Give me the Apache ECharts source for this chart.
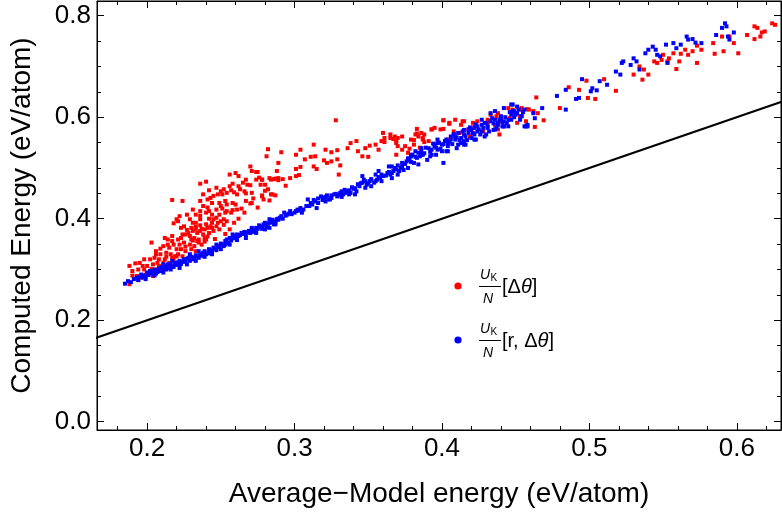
<!DOCTYPE html>
<html>
<head>
<meta charset="utf-8">
<script src="https://cdn.jsdelivr.net/npm/echarts@6/dist/echarts.min.js"></script>
<style>
html,body{margin:0;padding:0;background:#fff;}
#chart{width:782px;height:513px;}
</style>
</head>
<body>
<div id="chart"></div>
<script>
// ---- data ----
const xMajorTicks = [0.2, 0.3, 0.4, 0.5, 0.6];
const xMinorTicks = [0.18, 0.22, 0.24, 0.26, 0.28, 0.32, 0.34, 0.36, 0.38, 0.42, 0.44, 0.46, 0.48, 0.52, 0.54, 0.56, 0.58, 0.62];
const yMajorTicks = [0.0, 0.2, 0.4, 0.6, 0.8];
const yMinorTicks = [0.05, 0.1, 0.15, 0.25, 0.3, 0.35, 0.45, 0.5, 0.55, 0.65, 0.7, 0.75];
const xTitle = 'Average\u2212Model energy (eV/atom)';
const yTitle = 'Computed Energy (eV/atom)';
const identityLine = [[0.1, 0.1], [0.7, 0.7]];

const redPoints = [
[0.256,0.487],[0.260,0.490],[0.271,0.494],[0.275,0.492],[0.288,0.494],[0.236,0.469],[0.240,0.473],[0.256,0.464],[0.258,0.469],[0.262,0.464],
[0.265,0.471],[0.268,0.467],[0.270,0.466],[0.274,0.477],[0.276,0.481],[0.277,0.467],[0.278,0.477],[0.284,0.477],[0.287,0.479],[0.289,0.476],
[0.250,0.454],[0.251,0.448],[0.252,0.458],[0.254,0.451],[0.257,0.456],[0.259,0.452],[0.261,0.448],[0.263,0.458],[0.266,0.454],[0.267,0.450],
[0.271,0.451],[0.278,0.446],[0.284,0.448],[0.287,0.446],[0.217,0.437],[0.224,0.435],[0.236,0.435],[0.241,0.438],[0.243,0.441],[0.245,0.445],
[0.248,0.448],[0.238,0.425],[0.241,0.422],[0.244,0.431],[0.249,0.431],[0.253,0.435],[0.258,0.431],[0.260,0.428],[0.267,0.435],[0.275,0.422],
[0.242,0.415],[0.251,0.420],[0.254,0.415],[0.258,0.417],[0.266,0.412],[0.233,0.408],[0.236,0.406],[0.240,0.412],[0.249,0.408],[0.253,0.412],
[0.257,0.412],[0.220,0.399],[0.221,0.395],[0.218,0.391],[0.229,0.399],[0.231,0.392],[0.236,0.399],[0.242,0.400],[0.245,0.399],[0.250,0.395],
[0.254,0.395],[0.256,0.379],[0.225,0.385],[0.230,0.382],[0.233,0.384],[0.236,0.387],[0.239,0.379],[0.241,0.382],[0.243,0.385],[0.247,0.385],
[0.231,0.376],[0.234,0.372],[0.238,0.369],[0.242,0.372],[0.245,0.376],[0.249,0.379],[0.212,0.362],[0.214,0.359],[0.217,0.366],[0.221,0.359],
[0.223,0.362],[0.226,0.369],[0.229,0.366],[0.232,0.362],[0.235,0.359],[0.239,0.362],[0.203,0.353],[0.218,0.349],[0.222,0.349],[0.225,0.353],
[0.229,0.349],[0.232,0.346],[0.235,0.353],[0.215,0.343],[0.220,0.340],[0.223,0.340],[0.226,0.336],[0.230,0.340],[0.206,0.336],[0.209,0.330],
[0.213,0.333],[0.216,0.330],[0.221,0.330],[0.224,0.326],[0.205,0.323],[0.208,0.320],[0.212,0.320],[0.218,0.320],[0.215,0.313],[0.198,0.320],
[0.195,0.313],[0.192,0.312],[0.200,0.307],[0.204,0.310],[0.208,0.307],[0.213,0.303],[0.188,0.307],[0.190,0.297],[0.198,0.300],[0.202,0.297],
[0.207,0.300],[0.199,0.290],[0.193,0.287],[0.196,0.284],[0.204,0.287],[0.188,0.271],
[0.226,0.345],[0.228,0.372],[0.233,0.392],[0.237,0.380],[0.244,0.392],[0.247,0.402],[0.252,0.388],[0.239,0.355],[0.219,0.326],[0.211,0.313],
[0.231,0.357],[0.241,0.365],[0.246,0.360],[0.253,0.370],[0.259,0.392],[0.262,0.400],[0.264,0.420],[0.270,0.430],[0.272,0.440],[0.280,0.455],
[0.283,0.436],[0.281,0.523],[0.289,0.510],[0.270,0.503],[0.274,0.492],
[0.223,0.382],[0.227,0.378],[0.233,0.380],[0.236,0.376],[0.240,0.389],[0.244,0.382],[0.248,0.392],[0.252,0.399],[0.224,0.369],[0.230,0.359],
[0.234,0.356],[0.237,0.349],[0.240,0.359],[0.217,0.356],[0.214,0.349],[0.211,0.346],[0.209,0.341],[0.220,0.326],[0.217,0.323],[0.213,0.325],
[0.207,0.313],[0.203,0.301],[0.197,0.307],[0.194,0.300],[0.190,0.288],[0.202,0.320],[0.206,0.330],[0.233,0.336],[0.229,0.326],[0.244,0.408],
[0.247,0.418],[0.250,0.425],[0.254,0.428],[0.261,0.418],[0.271,0.431],[0.279,0.438],[0.282,0.458],[0.280,0.467],[0.267,0.477],[0.262,0.484],
[0.247,0.461],[0.242,0.456],[0.238,0.448],[0.231,0.418],[0.227,0.408],[0.222,0.405],[0.236,0.415],
[0.328,0.594],[0.282,0.537],[0.291,0.531],[0.278,0.477],[0.283,0.480],[0.286,0.478],[0.289,0.480],[0.292,0.478],[0.294,0.465],[0.285,0.448],
[0.278,0.444],[0.297,0.480],[0.301,0.484],[0.303,0.486],[0.301,0.498],[0.304,0.502],[0.307,0.517],[0.311,0.522],[0.314,0.523],[0.313,0.503],
[0.315,0.498],[0.320,0.515],[0.322,0.510],[0.325,0.513],[0.329,0.517],[0.331,0.505],[0.330,0.487],[0.301,0.526],[0.304,0.536],[0.313,0.546],
[0.321,0.536],[0.325,0.531],[0.329,0.535],[0.336,0.539],[0.338,0.549],[0.342,0.553],[0.343,0.533],[0.346,0.523],[0.348,0.539],[0.351,0.544],
[0.350,0.522],[0.355,0.546],[0.357,0.536],[0.359,0.553],[0.360,0.569],[0.361,0.559],[0.365,0.566],[0.367,0.557],[0.368,0.562],[0.369,0.549],
[0.370,0.559],[0.373,0.562],[0.375,0.543],[0.377,0.530],[0.381,0.555],[0.383,0.568],[0.384,0.562],[0.386,0.569],[0.387,0.559],[0.388,0.566],
[0.391,0.553],[0.393,0.576],[0.395,0.579],[0.399,0.576],[0.401,0.577],[0.401,0.594],[0.404,0.556],[0.405,0.589],[0.408,0.572],[0.409,0.595],
[0.412,0.569],[0.413,0.585],[0.415,0.592],[0.418,0.576],[0.419,0.562],[0.421,0.569],[0.422,0.582],[0.424,0.592],[0.428,0.572],[0.431,0.589],
[0.433,0.605],[0.436,0.585],[0.437,0.602],[0.438,0.576],[0.439,0.566],[0.440,0.592],[0.442,0.582],[0.445,0.618],[0.446,0.598],[0.449,0.608],
[0.451,0.589],[0.453,0.602],
[0.361,0.551],[0.365,0.559],[0.369,0.553],[0.370,0.543],[0.373,0.536],[0.369,0.526],[0.379,0.556],[0.381,0.546],[0.378,0.538],[0.382,0.566],
[0.383,0.577],[0.387,0.556],[0.388,0.551],[0.385,0.540],[0.393,0.576],[0.401,0.594],[0.405,0.587],[0.414,0.592],[0.421,0.589],[0.431,0.595],
[0.438,0.608],[0.448,0.615],[0.454,0.618],[0.459,0.615],
[0.454,0.615],[0.458,0.616],[0.462,0.612],[0.465,0.608],[0.469,0.594],[0.457,0.592],[0.463,0.581],[0.464,0.639],[0.480,0.618],[0.486,0.659],
[0.493,0.654],[0.498,0.672],[0.499,0.638],[0.504,0.636],[0.510,0.675],[0.518,0.652],[0.530,0.684],[0.534,0.700],[0.536,0.674],[0.537,0.694],
[0.540,0.684],[0.544,0.710],[0.546,0.707],[0.549,0.713],[0.550,0.723],[0.553,0.710],[0.554,0.716],[0.557,0.726],[0.559,0.695],[0.561,0.710],
[0.562,0.725],[0.565,0.733],[0.567,0.723],[0.570,0.730],[0.573,0.741],[0.573,0.707],[0.576,0.733],[0.584,0.746],[0.585,0.725],[0.590,0.759],
[0.591,0.730],[0.595,0.759],[0.598,0.746],[0.601,0.726],[0.607,0.762],[0.612,0.779],[0.614,0.776],[0.612,0.754],[0.616,0.759],[0.617,0.767],
[0.619,0.769],[0.624,0.785],[0.626,0.782]
];

const bluePoints = [
[0.185,0.272],[0.189,0.275],[0.191,0.281],[0.193,0.284],[0.195,0.286],[0.197,0.284],[0.198,0.288],[0.200,0.294],[0.202,0.297],[0.203,0.292],
[0.205,0.300],[0.207,0.295],[0.208,0.302],[0.210,0.305],[0.211,0.300],[0.213,0.307],[0.215,0.303],[0.216,0.310],[0.218,0.305],[0.219,0.313],
[0.221,0.310],[0.222,0.317],[0.223,0.311],[0.225,0.320],[0.226,0.315],[0.227,0.321],[0.229,0.317],[0.230,0.325],[0.232,0.321],[0.233,0.328],
[0.235,0.323],[0.236,0.330],[0.238,0.333],[0.239,0.336],[0.241,0.332],[0.242,0.340],[0.244,0.336],[0.245,0.343],[0.247,0.338],[0.248,0.346],
[0.250,0.351],[0.252,0.346],[0.253,0.356],[0.254,0.359],[0.256,0.362],[0.259,0.366],[0.261,0.369],[0.262,0.366],[0.264,0.372],[0.266,0.374],
[0.267,0.369],[0.269,0.376],[0.271,0.379],[0.272,0.374],[0.274,0.382],[0.276,0.387],[0.278,0.380],[0.279,0.389],[0.281,0.384],[0.283,0.392],
[0.284,0.393],[0.286,0.389],[0.288,0.399],[0.289,0.400],[0.253,0.349],[0.242,0.332],[0.231,0.320],[0.222,0.308],[0.213,0.300],[0.206,0.292],
[0.199,0.286],
[0.187,0.277],[0.194,0.279],[0.199,0.281],[0.205,0.288],[0.211,0.294],[0.216,0.300],[0.222,0.303],[0.227,0.310],[0.233,0.317],[0.239,0.325],
[0.244,0.330],[0.250,0.340],[0.256,0.349],[0.261,0.358],[0.267,0.362],[0.274,0.372],[0.280,0.379],[0.287,0.389],[0.211,0.310],[0.217,0.317],
[0.229,0.330],[0.235,0.336],[0.247,0.349],[0.258,0.369],[0.271,0.382],[0.283,0.399],
[0.278,0.385],[0.280,0.392],[0.283,0.382],[0.285,0.398],[0.287,0.395],[0.291,0.405],[0.293,0.412],[0.295,0.408],[0.297,0.415],[0.300,0.412],
[0.302,0.418],[0.304,0.421],[0.305,0.412],[0.309,0.438],[0.314,0.434],[0.315,0.421],[0.318,0.444],[0.320,0.441],[0.322,0.446],[0.324,0.438],
[0.327,0.448],[0.329,0.444],[0.331,0.451],[0.333,0.448],[0.336,0.454],[0.338,0.451],[0.340,0.459],[0.342,0.454],[0.344,0.464],[0.347,0.477],
[0.349,0.467],[0.351,0.474],[0.354,0.471],[0.356,0.477],[0.358,0.480],[0.360,0.484],[0.363,0.490],[0.365,0.487],[0.367,0.494],[0.369,0.497],
[0.372,0.500],[0.374,0.496],[0.376,0.513],[0.378,0.516],[0.381,0.510],[0.382,0.533],[0.383,0.520],[0.385,0.523],[0.387,0.526],[0.390,0.516],
[0.391,0.539],[0.393,0.536],[0.395,0.543],[0.397,0.536],[0.400,0.546],[0.401,0.510],[0.402,0.553],[0.404,0.543],[0.406,0.556],[0.409,0.562],
[0.411,0.546],[0.413,0.559],[0.415,0.553],[0.418,0.569],[0.420,0.575],[0.422,0.566],[0.424,0.582],[0.427,0.572],[0.429,0.589],[0.431,0.579],
[0.433,0.608],[0.436,0.595],[0.438,0.585],[0.440,0.602],[0.442,0.592],[0.445,0.582],[0.447,0.625],[0.448,0.612],[0.450,0.605],[0.452,0.615],
[0.373,0.510],[0.364,0.503],[0.357,0.494],[0.346,0.471],[0.334,0.457],[0.323,0.438],[0.312,0.428],[0.301,0.415],[0.289,0.398],
[0.310,0.425],[0.316,0.431],[0.321,0.434],[0.325,0.441],[0.332,0.443],[0.337,0.448],[0.341,0.448],[0.348,0.461],[0.352,0.464],[0.359,0.474],
[0.366,0.480],[0.370,0.487],[0.377,0.500],[0.384,0.507],[0.392,0.523],[0.396,0.526],[0.403,0.533],[0.410,0.539],[0.416,0.546],[0.423,0.556],
[0.430,0.566],[0.435,0.575],[0.441,0.582],[0.447,0.595],[0.346,0.484],[0.355,0.487],[0.366,0.503],[0.379,0.526],[0.386,0.539],[0.397,0.549],
[0.408,0.566],[0.415,0.575],[0.427,0.595],[0.436,0.612],[0.442,0.618],
[0.379,0.523],[0.386,0.526],[0.395,0.546],[0.397,0.556],[0.400,0.533],[0.404,0.549],[0.406,0.562],[0.409,0.556],[0.411,0.569],[0.413,0.549],
[0.415,0.566],[0.418,0.576],[0.420,0.559],[0.422,0.579],[0.424,0.572],[0.427,0.585],[0.429,0.562],[0.431,0.582],[0.433,0.592],[0.436,0.576],
[0.438,0.589],[0.440,0.598],[0.442,0.582],[0.445,0.595],[0.447,0.605],[0.449,0.612],[0.451,0.621],[0.454,0.602],[0.456,0.582],[0.458,0.582],
[0.448,0.625],[0.422,0.556],[0.415,0.546],[0.404,0.533],[0.393,0.526],
[0.454,0.602],[0.456,0.615],[0.458,0.585],[0.462,0.608],[0.463,0.598],[0.457,0.582],[0.468,0.618],[0.478,0.642],[0.484,0.615],[0.484,0.654],
[0.491,0.636],[0.493,0.638],[0.495,0.675],[0.501,0.651],[0.502,0.657],[0.505,0.653],[0.507,0.671],[0.512,0.664],[0.518,0.690],[0.521,0.684],
[0.522,0.707],[0.523,0.710],[0.528,0.703],[0.530,0.716],[0.532,0.710],[0.534,0.694],[0.538,0.726],[0.540,0.733],[0.543,0.739],[0.545,0.733],
[0.546,0.723],[0.548,0.720],[0.552,0.743],[0.553,0.707],[0.557,0.746],[0.559,0.736],[0.562,0.743],[0.566,0.759],[0.567,0.753],[0.570,0.754],
[0.572,0.747],[0.576,0.746],[0.586,0.762],[0.590,0.776],[0.592,0.785],[0.593,0.779],[0.594,0.759],[0.598,0.767],[0.595,0.753],
[0.194,0.280],[0.196,0.290],[0.201,0.289],[0.204,0.296],[0.206,0.298],[0.209,0.297],[0.212,0.303],[0.214,0.310],[0.217,0.306],[0.219,0.309],
[0.221,0.314],[0.224,0.315],[0.226,0.318],[0.228,0.323],[0.231,0.323],[0.234,0.326],[0.237,0.327],[0.240,0.330],[0.243,0.338],[0.246,0.341],
[0.249,0.344],[0.251,0.349],[0.255,0.352],[0.257,0.357],[0.258,0.361],[0.260,0.362],[0.263,0.368],[0.265,0.370],[0.268,0.373],[0.270,0.372],
[0.273,0.378],[0.275,0.380],[0.277,0.384],[0.280,0.388],[0.282,0.390],[0.285,0.394],[0.287,0.392],[0.290,0.402],[0.292,0.400],[0.294,0.406],
[0.296,0.410],[0.298,0.409],[0.303,0.416],[0.306,0.418],[0.308,0.425],[0.311,0.431],[0.313,0.437],[0.316,0.440],[0.319,0.437],[0.321,0.443],
[0.325,0.446],[0.328,0.449],[0.330,0.447],[0.332,0.454],[0.335,0.451],[0.337,0.456],[0.339,0.462],[0.341,0.460],[0.343,0.468],[0.345,0.470],
[0.348,0.474],[0.350,0.470],[0.352,0.478],[0.355,0.474],[0.357,0.482],[0.359,0.487],[0.362,0.485],[0.364,0.492],[0.366,0.490],[0.368,0.500],
[0.370,0.505],[0.371,0.494],[0.373,0.503],[0.375,0.508],[0.377,0.519],[0.379,0.512],[0.380,0.526],[0.382,0.522],[0.384,0.530],[0.386,0.533],
[0.388,0.529],[0.389,0.540],[0.392,0.532],[0.394,0.548],[0.396,0.540],[0.398,0.550],[0.399,0.538],[0.401,0.547],[0.403,0.556],[0.405,0.552],
[0.407,0.547],[0.408,0.566],[0.410,0.560],[0.412,0.555],[0.414,0.572],[0.416,0.562],[0.417,0.555],[0.419,0.580],[0.421,0.568],[0.423,0.586],
[0.425,0.576],[0.426,0.566],[0.428,0.579],[0.430,0.588],[0.432,0.572],[0.434,0.598],[0.435,0.588],[0.437,0.579],[0.439,0.595],[0.441,0.590],
[0.443,0.600],[0.444,0.588],[0.446,0.610],[0.449,0.600],[0.451,0.608],[0.453,0.595],[0.455,0.610]
];

// ---- chart ----
const FONT = 'Liberation Sans';
const X_MIN = 0.166, X_MAX = 0.630, Y_MIN = -0.0163, Y_MAX = 0.829;
const fmt = v => Number(v).toFixed(1);

function xAx(position, ticks, len, showLabel, showLine, extra) {
  return Object.assign({
    type: 'value', position: position, min: X_MIN, max: X_MAX,
    axisLine: {show: showLine, onZero: false, lineStyle: {color: '#000', width: 1}},
    axisTick: {show: true, inside: true, length: len, customValues: ticks, lineStyle: {color: '#000', width: 1}},
    axisLabel: {show: showLabel, customValues: ticks, formatter: fmt, fontFamily: FONT, fontSize: 26, color: '#000', margin: 6},
    splitLine: {show: false}
  }, extra || {});
}
function yAx(position, ticks, len, showLabel, showLine, extra) {
  return Object.assign({
    type: 'value', position: position, min: Y_MIN, max: Y_MAX,
    axisLine: {show: showLine, onZero: false, lineStyle: {color: '#000', width: 1}},
    axisTick: {show: true, inside: true, length: len, customValues: ticks, lineStyle: {color: '#000', width: 1}},
    axisLabel: {show: showLabel, customValues: ticks, formatter: fmt, fontFamily: FONT, fontSize: 26, color: '#000', margin: 6},
    splitLine: {show: false}
  }, extra || {});
}

const chart = echarts.init(document.getElementById('chart'), null, {renderer: 'canvas'});

function legendItem(y, color, bracketRich) {
  return [
    {type: 'circle', shape: {cx: 458, cy: y, r: 3.6}, style: {fill: color}, silent: true},
    {type: 'text', x: 480, y: y - 18, silent: true, style: {text: 'U', font: 'italic 14px "Liberation Sans"', fill: '#000'}},
    {type: 'text', x: 490.5, y: y - 13, silent: true, style: {text: 'K', font: '10px "Liberation Sans"', fill: '#000'}},
    {type: 'line', silent: true, shape: {x1: 479, y1: y + 0.5, x2: 501, y2: y + 0.5}, style: {stroke: '#000', lineWidth: 1}},
    {type: 'text', x: 483, y: y + 6, silent: true, style: {text: 'N', font: 'italic 14px "Liberation Sans"', fill: '#000'}},
    {type: 'text', x: 502, y: y + 1, silent: true, style: {
      text: bracketRich, verticalAlign: 'middle', fill: '#000',
      fontFamily: FONT, fontSize: 20,
      rich: {it: {fontStyle: 'italic', fontFamily: FONT, fontSize: 20, fill: '#000'}}
    }}
  ];
}

chart.setOption({
  animation: false,
  backgroundColor: '#fff',
  grid: {left: 94, right: 1, top: 1, bottom: 82, containLabel: false, show: true, borderColor: '#000', borderWidth: 1, backgroundColor: 'transparent'},
  xAxis: [
    xAx('bottom', xMajorTicks, 7, true, true, {
      name: xTitle, nameLocation: 'middle', nameGap: 50,
      nameTextStyle: {fontFamily: FONT, fontSize: 28, color: '#000'}
    }),
    xAx('bottom', xMinorTicks, 4, false, false),
    xAx('top', xMajorTicks, 7, false, true),
    xAx('top', xMinorTicks, 4, false, false)
  ],
  yAxis: [
    yAx('left', yMajorTicks, 7, true, true, {
      name: yTitle, nameLocation: 'middle', nameGap: 61,
      nameTextStyle: {fontFamily: FONT, fontSize: 28, color: '#000'}
    }),
    yAx('left', yMinorTicks, 4, false, false),
    yAx('right', yMajorTicks, 7, false, true),
    yAx('right', yMinorTicks, 4, false, false)
  ],
  series: [
    {type: 'line', data: identityLine, showSymbol: false, symbol: 'none', clip: true,
     lineStyle: {color: '#000', width: 2}, xAxisIndex: 0, yAxisIndex: 0, silent: true},
    {type: 'scatter', name: 'red', data: redPoints, symbol: 'rect', symbolSize: 4,
     itemStyle: {color: '#ff0000', opacity: 1}, xAxisIndex: 0, yAxisIndex: 0},
    {type: 'scatter', name: 'blue', data: bluePoints, symbol: 'rect', symbolSize: 4,
     itemStyle: {color: '#0000ff', opacity: 1}, xAxisIndex: 0, yAxisIndex: 0}
  ],
  graphic: [].concat(
    legendItem(286, '#ff0000', '[Δ{it|θ}]'),
    legendItem(340, '#0000ff', '[r, Δ{it|θ}]')
  )
});
</script>
</body>
</html>
